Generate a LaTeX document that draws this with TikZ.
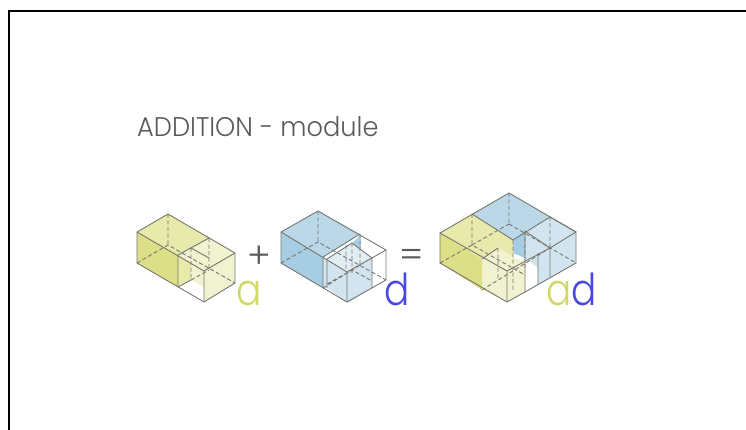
\documentclass[tikz,border=0pt]{standalone}
\usepackage{fontspec}
\setmainfont{Poppins Light}
\definecolor{titlegray}{HTML}{5A5A5A}
\definecolor{edgegray}{HTML}{77776F}
\definecolor{yelA}{HTML}{DCDE88}
\definecolor{yelB}{HTML}{E8EAAC}
\definecolor{yelC}{HTML}{F1F2CF}
\definecolor{yelT}{HTML}{D0D965}
\definecolor{bluA}{HTML}{A6CDE3}
\definecolor{bluB}{HTML}{BAD8E8}
\definecolor{bluC}{HTML}{D2E4EF}
\definecolor{bluD}{HTML}{E2EDF4}
\definecolor{bluT}{HTML}{4A48E0}
\begin{document}
\begin{tikzpicture}[x=1pt,y=-1pt,
  solid edge/.style={draw=edgegray,line width=0.9pt,line join=round},
  hidden edge/.style={draw=edgegray,line width=0.9pt,dash pattern=on 4pt off 2.5pt},
  big letter/.style={font=\fontsize{44}{44}\selectfont,inner sep=0pt,anchor=base,xscale=0.85},
  sign/.style={font=\fontsize{36}{36}\selectfont,text=titlegray,inner sep=0pt}]
  \useasboundingbox (0,0) rectangle (746,430);
  \draw[line width=2pt] (8.5,430) -- (8.5,11.5) -- (746,11.5);
  \node[font=\fontsize{27}{27}\selectfont,text=titlegray,inner sep=0pt,anchor=base west,xscale=0.95] (title) at (137,136.5) {ADDITION - module};
  % block a
  \fill[yelB] (137,232) -- (168,214) -- (209,238) -- (178,255) -- cycle;
  \fill[yelA] (137,232) -- (178,255) -- (178,287) -- (137,263) -- cycle;
  \fill[yelC] (178,255) -- (209,238) -- (235,253) -- (204,271) -- cycle;
  \fill[yelC] (204,271) -- (235,253) -- (235,283) -- (204,302) -- cycle;
  \fill[yelB] (178,255) -- (191,263) -- (191,280) -- (178,287) -- cycle;
  \fill[yelC] (191,263) -- (204,271) -- (204,287) -- (191,280) -- cycle;
  \path[solid edge] (137,232) -- (168,214) -- (235,253) -- (235,283) -- (204,302) -- (137,263) -- cycle;
  \path[solid edge] (137,232) -- (204,271) -- (235,253) (204,271) -- (204,302);
  \path[solid edge] (178,255) -- (209,238) (178,255) -- (178,287);
  \path[solid edge] (191,248) -- (209,258) (178,287) -- (191,280);
  \path[hidden edge] (168,214) -- (168,245) (137,263) -- (168,245) -- (235,283);
  \path[hidden edge] (209,238) -- (209,270) (191,248) -- (191,280) (191,280) -- (209,270);
  \node[big letter,text=yelT] (leta) at (249,305) {a};
  \node[sign] (plus) at (259,257) {+};
  % block d
  \fill[bluB] (281,232) -- (318,211) -- (360,234) -- (323,257) -- cycle;
  \fill[bluA] (281,232) -- (323,257) -- (323,288) -- (281,263) -- cycle;
  \fill[bluA] (353,242) -- (361,235) -- (361,248) -- (353,248) -- cycle;
  \fill[bluC] (323,257) -- (327,259) -- (327,288) -- (323,288) -- cycle;
  \fill[bluD] (327,259) -- (352,243) -- (372,258) -- (348,272) -- cycle;
  \fill[bluC] (327,259) -- (348,272) -- (348,303) -- (327,288) -- cycle;
  \fill[bluC] (348,272) -- (372,258) -- (372,288) -- (348,303) -- cycle;
  \path[solid edge] (281,232) -- (318,211) -- (386,250) -- (386,280) -- (347,302) -- (281,263) -- cycle;
  \path[solid edge] (281,232) -- (347,272) -- (386,250) (347,272) -- (347,302);
  \path[solid edge] (323,257) -- (360,234) (323,257) -- (323,288);
  \path[solid edge] (327,259) -- (352,243) -- (372,258) -- (372,288) (327,259) -- (327,288);
  \path[hidden edge] (318,211) -- (318,242) (281,263) -- (318,242) -- (386,280);
  \path[hidden edge] (360,234) -- (360,265) (323,288) -- (360,265) (352,243) -- (352,273) (327,284) -- (352,270) -- (372,281) (346,245) -- (346,270);
  \node[big letter,text=bluT] (letd) at (397,305) {d};
  \node[sign] (equal) at (412,258) {=};
  % block ad
  \fill[bluB] (472,214) -- (509,193) -- (550,217) -- (513,240) -- cycle;
  \fill[bluC] (525,231) -- (550,217) -- (576,232) -- (550,248) -- cycle;
  \fill[bluC] (525,231) -- (550,248) -- (550,278) -- (538,285) -- (538,268) -- (525,258) -- cycle;
  \fill[bluC] (550,248) -- (576,232) -- (576,263) -- (550,278) -- cycle;
  \fill[bluA] (513,240) -- (525,231) -- (525,258) -- (513,253) -- cycle;
  \fill[yelB] (440,233) -- (472,214) -- (513,240) -- (513,257) -- (498,248) -- (482,259) -- cycle;
  \fill[yelA] (440,233) -- (482,259) -- (482,290) -- (440,263) -- cycle;
  \fill[yelC] (482,259) -- (498,248) -- (513,257) -- (525,262) -- (525,292) -- (507,302) -- (482,290) -- cycle;
  \path[solid edge] (440,233) -- (509,193) -- (576,232) -- (576,263) -- (525,292) -- (507,302) -- (440,263) -- cycle;
  \path[solid edge] (440,233) -- (507,271) -- (550,248) (507,271) -- (507,302);
  \path[solid edge] (472,214) -- (513,240) -- (550,217) -- (576,232) -- (550,248) -- (550,278);
  \path[solid edge] (482,259) -- (498,248) (525,231) -- (550,248) (525,231) -- (525,292) (538,253) -- (538,285);
  \path[hidden edge] (472,214) -- (472,245) (509,193) -- (509,224) (440,263) -- (472,245) -- (525,275);
  \path[hidden edge] (509,224) -- (576,263) (472,245) -- (509,224) (550,217) -- (550,248);
  \path[hidden edge] (482,290) -- (550,248) (513,240) -- (513,290) (498,248) -- (498,280) (525,231) -- (525,270);
  \node[big letter] (letad) at (571.5,305) {\textcolor{yelT}{a}\textcolor{bluT}{d}};
\end{tikzpicture}
\end{document}
